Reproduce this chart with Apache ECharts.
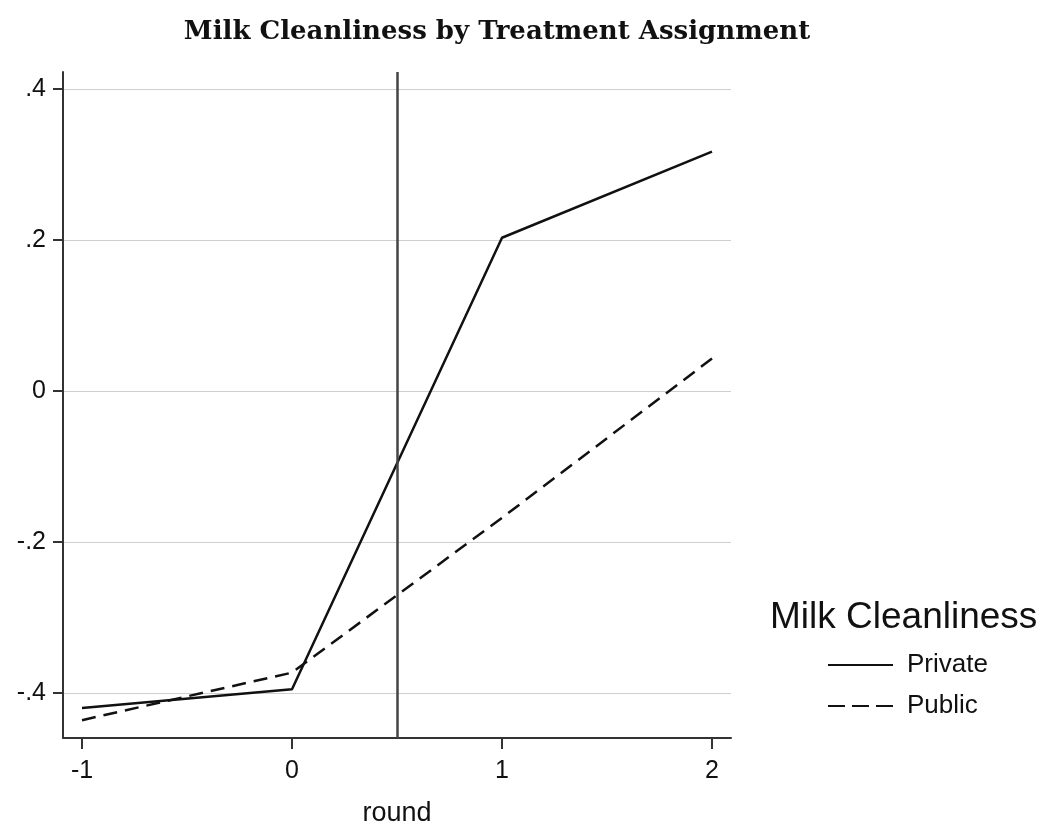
<!DOCTYPE html>
<html>
<head>
<meta charset="utf-8">
<script src="https://cdn.jsdelivr.net/npm/echarts@6/dist/echarts.min.js"></script>
<style>
html,body{margin:0;padding:0;background:#fff;}
#chart{width:1062px;height:830px;}
</style>
</head>
<body>
<div id="chart"></div>
<script>
var rounds = [-1, 0, 1, 2];
var privateVals = [-0.420, -0.395, 0.203, 0.317];
var publicVals = [-0.436, -0.373, -0.168, 0.043];
var xTicks = [-1, 0, 1, 2];
var yTicks = [-0.4, -0.2, 0, 0.2, 0.4];
var cutoff = 0.5;

var chart = echarts.init(document.getElementById("chart"));

var toPairs = function (vals) {
    var out = [];
    for (var i = 0; i < rounds.length; i++) {
        out.push([rounds[i], vals[i]]);
    }
    return out;
};

option = {
    backgroundColor: "#fff",
    animation: false,
    title: [
        {
            text: "Milk Cleanliness by Treatment Assignment",
            left: 492,
            textAlign: "center",
            top: 14,
            textStyle: {
                fontFamily: "DejaVu Serif",
                fontWeight: "bold",
                fontSize: 26,
                color: "#111"
            }
        },
        {
            text: "Milk Cleanliness",
            left: 765,
            top: 594,
            textStyle: {
                fontFamily: "Liberation Sans",
                fontWeight: "normal",
                fontSize: 37,
                color: "#111"
            }
        }
    ],
    legend: {
        orient: "vertical",
        left: 822,
        top: 647,
        itemWidth: 65,
        itemHeight: 26,
        itemGap: 15,
        itemStyle: {opacity: 0},
        textStyle: {
            fontFamily: "Liberation Sans",
            fontSize: 26,
            color: "#111",
            padding: [0, 0, 0, 9]
        },
        data: [
            {name: "Private"},
            {name: "Public", lineStyle: {type: [17, 7]}}
        ]
    },
    grid: {
        left: 63,
        right: 331,
        top: 72,
        bottom: 92,
        containLabel: false,
        outerBoundsMode: "none"
    },
    xAxis: {
        type: "value",
        min: -1.0905,
        max: 2.0905,
        name: "round",
        nameLocation: "middle",
        nameGap: 62,
        nameTextStyle: {
            color: "#111",
            fontSize: 27,
            fontFamily: "Liberation Sans"
        },
        axisLine: {show: true, onZero: false, lineStyle: {color: "#333", width: 2}},
        axisTick: {
            show: true,
            length: 11,
            lineStyle: {color: "#333", width: 2},
            customValues: xTicks
        },
        axisLabel: {
            customValues: xTicks,
            margin: 21,
            color: "#111",
            fontSize: 25,
            fontFamily: "Liberation Sans",
            formatter: function (v) { return String(v); }
        },
        splitLine: {show: false}
    },
    yAxis: {
        type: "value",
        min: -0.4596,
        max: 0.4225,
        axisLine: {show: true, onZero: false, lineStyle: {color: "#333", width: 2}},
        axisTick: {
            show: true,
            length: 10,
            lineStyle: {color: "#333", width: 2},
            customValues: yTicks
        },
        axisLabel: {
            customValues: yTicks,
            margin: 17,
            color: "#111",
            fontSize: 25,
            fontFamily: "Liberation Sans",
            formatter: function (v) {
                var s = String(Math.round(v * 10) / 10);
                return s.replace("0.", ".");
            }
        },
        splitLine: {
            show: true,
            lineStyle: {color: "#cfcfcf", width: 1}
        }
    },
    series: [
        {
            name: "Private",
            type: "line",
            symbol: "none",
            lineStyle: {color: "#111", width: 2.5, type: "solid"},
            itemStyle: {color: "#111"},
            data: toPairs(privateVals),
            markLine: {
                silent: true,
                symbol: "none",
                label: {show: false},
                lineStyle: {color: "#444", width: 2.5, type: "solid"},
                data: [{xAxis: cutoff}]
            }
        },
        {
            name: "Public",
            type: "line",
            symbol: "none",
            lineStyle: {color: "#111", width: 2.5, type: [14, 8]},
            itemStyle: {color: "#111"},
            data: toPairs(publicVals)
        }
    ]
};
chart.setOption(option);
</script>
</body>
</html>
